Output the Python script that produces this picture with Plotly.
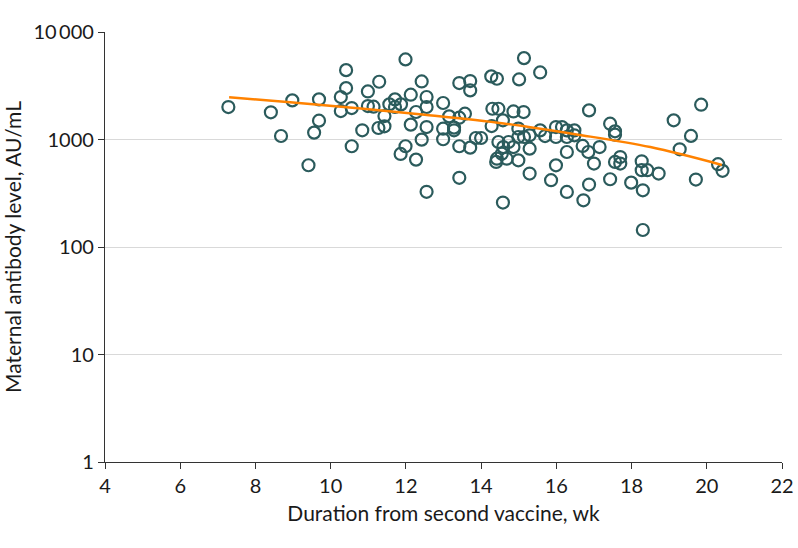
import plotly.graph_objects as go

# Duration from second vaccine (wk) and maternal antibody level (AU/mL)
weeks = [
    7.28, 8.41, 8.68, 8.98, 9.41, 9.56, 9.69, 9.69, 10.27, 10.27, 10.41, 10.41, 10.56, 10.56, 10.84,
    10.99, 10.99, 11.14, 11.29, 11.43, 11.43, 11.27, 11.56, 11.71, 11.71, 11.87, 11.99, 11.99, 11.86,
    12.13, 12.13, 12.27, 12.27, 12.42, 12.42, 12.55, 12.55, 12.55, 12.55, 12.99, 12.99, 12.99, 13.15,
    13.28, 13.28, 13.42, 13.42, 13.42, 13.42, 13.57, 13.71, 13.71, 13.71, 13.86, 14.0, 14.27, 14.42,
    14.30, 14.46, 14.86, 15.13, 14.28, 14.58, 14.99, 14.99, 15.14, 15.29, 14.46, 14.59, 14.73, 14.86,
    14.55, 14.42, 14.40, 14.68, 14.99, 15.29, 15.29, 15.57, 15.70, 15.99, 16.15, 16.28, 16.48, 15.99,
    16.28, 16.48, 15.99, 15.86, 16.28, 16.28, 14.58,
    15.14, 15.01, 15.57,
    16.87, 17.43, 17.56, 17.56, 16.70, 16.85, 17.15, 17.0, 17.56, 17.70, 17.70, 18.27, 18.27, 18.42,
    18.72, 17.43, 16.87, 17.99, 18.30, 16.72,
    19.12, 19.85, 19.58, 19.28, 20.30, 20.42, 19.71, 18.30,
]
antibody = [
    2004, 1790, 1078, 2312, 576, 1159, 2362, 1497, 2482, 1840, 4418, 3007, 1960, 865, 1217,
    2800, 2047, 2018, 3444, 1653, 1326, 1279, 2122, 2362, 2005, 2122, 5560, 865, 734,
    2612, 1375, 1803, 650, 3467, 997, 2484, 2005, 1306, 326, 2185, 1261, 1005, 1641,
    1290, 1217, 3350, 1596, 865, 440, 1738, 3495, 2862, 840, 1033, 1033, 3864, 3673,
    1932, 1932, 1824, 1799, 1334, 1507, 1262, 1055, 1055, 1094, 948, 851, 948, 851,
    738, 663, 618, 663, 640, 822, 482, 1216, 1077, 1306, 1306, 1216, 1216, 1055,
    1055, 1094, 575, 418, 765, 325, 259,
    5715, 3622, 4207,
    1866, 1402, 1191, 1109, 871, 765, 851, 597, 618, 687, 597, 627, 518, 518,
    482, 427, 381, 397, 337, 272,
    1507, 2107, 1080, 811, 589, 511, 424, 144,
]

# Fitted trend line
fit_weeks = [7.3, 9.0, 10.8, 12.5, 14.6, 16.5, 18.5, 20.4]
fit_level = [2470, 2210, 1940, 1700, 1410, 1120, 850, 580]

x_ticks = [4, 6, 8, 10, 12, 14, 16, 18, 20, 22]
y_ticks = [1, 10, 100, 1000, 10000]
y_tick_text = ["1", "10", "100", "1000", "10\u2009000"]

FONT = "Lato"

fig = go.Figure()
fig.add_trace(go.Scatter(
    x=weeks, y=antibody, mode="markers",
    marker=dict(symbol="circle-open", size=12, color="#2B5B5C",
                line=dict(width=2.2, color="#2B5B5C")),
    showlegend=False, hoverinfo="x+y",
))
fig.add_trace(go.Scatter(
    x=fit_weeks, y=fit_level, mode="lines",
    line=dict(color="#FF8200", width=2.5, shape="spline"),
    showlegend=False,
))

fig.update_layout(
    width=798, height=548,
    margin=dict(l=105, r=16, t=32, b=86, autoexpand=False),
    paper_bgcolor="white", plot_bgcolor="white",
    font=dict(family=FONT, size=20, color="#1a1a1a"),
    xaxis=dict(
        range=[4, 22], tickvals=x_ticks, showgrid=False, zeroline=False,
        automargin=False,
        showline=True, linecolor="#333333", linewidth=1.2,
        ticks="outside", ticklen=6, tickcolor="#333333",
        tickfont=dict(family=FONT, size=20),
        title=dict(text="Duration from second vaccine, wk", standoff=10,
                   font=dict(family=FONT, size=21)),
    ),
    yaxis=dict(
        type="log", range=[0, 4], tickvals=y_ticks, ticktext=y_tick_text,
        showgrid=True, gridcolor="#d9d9d9", gridwidth=1.2, zeroline=False,
        automargin=False,
        showline=True, linecolor="#333333", linewidth=1.2,
        ticks="outside", ticklen=6, tickcolor="#333333",
        tickfont=dict(family=FONT, size=20),
        title=dict(text="Maternal antibody level, AU/mL", standoff=12,
                   font=dict(family=FONT, size=21)),
    ),
)

fig.write_html("out.html", config={"displayModeBar": False},
               post_script="document.body.style.margin='0';")
